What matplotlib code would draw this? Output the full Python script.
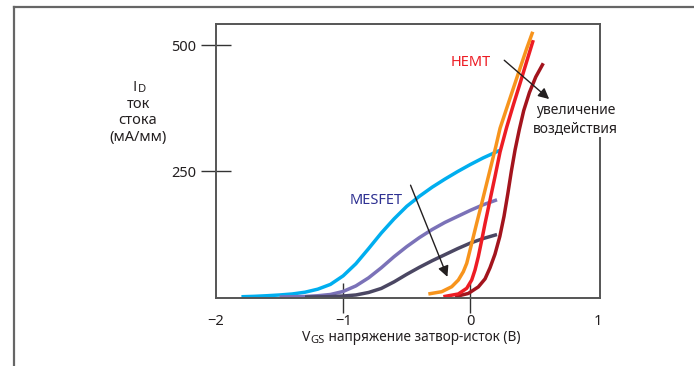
import matplotlib
matplotlib.use("Agg")
import matplotlib.pyplot as plt
from matplotlib.lines import Line2D

plt.rcParams["font.family"] = ["Noto Sans", "DejaVu Sans"]

# MESFET transfer curves (V_GS in V, I_D in mA/mm)
mes1_v = [-1.8, -1.7, -1.6, -1.5, -1.4, -1.3, -1.2, -1.1, -1.0, -0.9, -0.8, -0.7,
          -0.6, -0.5, -0.4, -0.3, -0.2, -0.1, 0.0, 0.1, 0.23]
mes1_i = [0.5, 1.3, 2.5, 4, 6, 9.5, 15.5, 25, 42, 66, 96, 127, 155, 180, 200, 218,
          234, 249, 263, 276, 291]
mes2_v = [-1.5, -1.4, -1.3, -1.2, -1.1, -1.0, -0.9, -0.8, -0.7, -0.6, -0.5, -0.4,
          -0.3, -0.2, -0.1, 0.0, 0.1, 0.21]
mes2_i = [0, 0.5, 1, 2.5, 5, 11, 22, 38, 58, 80, 100, 118, 134, 148, 160, 172, 183, 193]
mes3_v = [-1.3, -1.2, -1.1, -1.0, -0.9, -0.8, -0.7, -0.6, -0.5, -0.4, -0.3, -0.2,
          -0.1, 0.0, 0.1, 0.21]
mes3_i = [0, 0.3, 0.8, 2, 4, 9, 17, 30, 45, 59, 72, 84, 96, 107, 116, 124]

# HEMT transfer curves
hemt1_v = [-0.330, -0.225, -0.146, -0.094, -0.055, -0.028, -0.002, 0.024, 0.050,
           0.090, 0.129, 0.168, 0.200, 0.234, 0.286, 0.338, 0.391, 0.444, 0.491]
hemt1_i = [6, 10.5, 20.4, 33.7, 50.2, 66.9, 93.3, 119.7, 146.3, 186, 225.7, 265.4,
           298, 335, 374.6, 414, 454, 493.7, 526.6]
hemt2_v = [-0.212, -0.094, -0.028, 0.011, 0.037, 0.063, 0.090, 0.116, 0.155, 0.194,
           0.234, 0.286, 0.338, 0.391, 0.444, 0.495]
hemt2_i = [0.6, 6, 17.3, 33.7, 53.6, 80, 113, 146, 192.5, 238.8, 288, 337, 381,
           424, 468, 510]
hemt3_v = [-0.120, -0.016, 0.063, 0.116, 0.155, 0.194, 0.232, 0.265, 0.295, 0.323,
           0.352, 0.385, 0.420, 0.465, 0.515, 0.574]
hemt3_i = [0.6, 7, 20, 36, 58, 85, 120, 160, 205, 250, 292, 332, 370, 406, 437, 464]

x_ticks = [-2, -1, 0, 1]
x_labels = ["\u22122", "\u22121", "0", "1"]
y_ticks = [250, 500]

W, H = 694, 366
fig = plt.figure(figsize=(W / 100, H / 100), dpi=100)
ax = fig.add_axes([216 / W, 1 - 298 / H, (600 - 216) / W, (298 - 24) / H])

lw = 2.5
style = dict(lw=lw, solid_capstyle="butt", solid_joinstyle="round")
ax.plot(mes1_v, mes1_i, color="#00aeef", **style)
ax.plot(mes2_v, mes2_i, color="#7b72b8", **style)
ax.plot(mes3_v, mes3_i, color="#4b4763", **style)
ax.plot(hemt3_v, hemt3_i, color="#a3141d", **style)
ax.plot(hemt2_v, hemt2_i, color="#ed1c24", **style)
ax.plot(hemt1_v, hemt1_i, color="#f7941d", **style)

ax.set_xlim(-2, 1.02)
ax.set_ylim(-2, 542)

for s in ax.spines.values():
    s.set_color("#555555")
    s.set_linewidth(1.4)

ax.set_xticks(x_ticks)
ax.set_xticklabels(x_labels)
ax.set_yticks(y_ticks)
ax.tick_params(direction="inout", length=21, width=1.0, color="#333333",
               labelsize=10.5, labelcolor="#231f20")
ax.tick_params(axis="x", pad=1)
ax.tick_params(axis="y", pad=4)
# ticks at the axis ends would sit on the spines
xt = ax.xaxis.get_major_ticks()
xt[0].tick1line.set_visible(False)
xt[-1].tick1line.set_visible(False)

# labels and arrows
ax.text(0.0, 466, "HEMT", color="#ed1c24", fontsize=10.5, ha="center", va="center")
ax.text(-0.74, 192, "MESFET", color="#2e3192", fontsize=10.5, ha="center", va="center")
ax.text(0.83, 353, "увеличение\nвоздействия", color="#231f20", fontsize=10,
        ha="center", va="center", linespacing=1.3, clip_on=False, zorder=5,
        bbox=dict(facecolor="white", edgecolor="none", pad=1))
arrow = dict(arrowstyle="-|>", color="#231f20", lw=1.0, mutation_scale=16,
             shrinkA=0, shrinkB=0)
ax.annotate("", xy=(0.62, 393), xytext=(0.267, 470), arrowprops=arrow)
ax.annotate("", xy=(-0.18, 40), xytext=(-0.47, 222), arrowprops=arrow)

ink = "#231f20"
sub = dict(color=ink, fontsize=8)

# y axis title: I_D with a subscript, then the words below
t_i = fig.text(133 / W, 1 - 91 / H, "I", ha="left", va="baseline", color=ink,
               fontsize=11, family=["Open Sans", "DejaVu Sans"])
ax.annotate("D", xy=(1, 0), xycoords=t_i, xytext=(0.6, 0),
            textcoords="offset points", ha="left", va="bottom", **sub)
fig.text(138 / W, 1 - 121 / H, "ток\nстока\n(мА/мм)", ha="center", va="center",
         linespacing=1.1, color=ink, fontsize=10.5)

# x axis title: V_GS with a subscript, then the description
t_v = fig.text(302 / W, 1 - 341 / H, "V", ha="left", va="baseline", color=ink,
               fontsize=10)
t_gs = ax.annotate("GS", xy=(1, 0), xycoords=t_v, xytext=(0.3, -0.8),
                   textcoords="offset points", ha="left", va="bottom", **sub)
ax.annotate(" напряжение затвор-исток (В)", xy=(1, 0), xycoords=t_gs,
            xytext=(0, 0.8), textcoords="offset points", ha="left", va="bottom",
            color=ink, fontsize=9.8)

# outer frame
fig.add_artist(Line2D([14 / W, 14 / W], [0, 1 - 7 / H], color="#666666", lw=1.6))
fig.add_artist(Line2D([14 / W, 1], [1 - 7 / H, 1 - 7 / H], color="#666666", lw=1.6))

fig.savefig("out.png", dpi=100)
